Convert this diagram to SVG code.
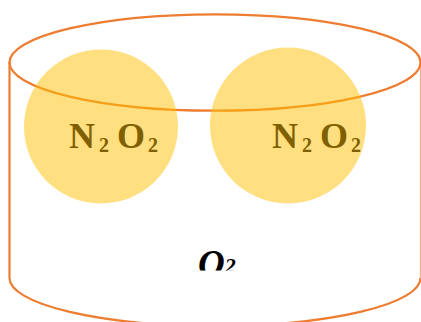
<svg xmlns="http://www.w3.org/2000/svg" width="421" height="322" viewBox="0 0 421 322">
<defs>
<style>
.line{fill:none;stroke:#ED7D31;stroke-width:2.2}
.ball{fill:#FFC000;fill-opacity:0.5}
.lbl{font-family:"Liberation Serif","Times New Roman",serif;font-weight:bold;fill:#7F6000;font-size:36px}
.sub{font-size:20px}
.o2{font-family:"Liberation Serif","Times New Roman",serif;font-weight:bold;font-style:italic;fill:#000000;font-size:37px}
</style>
<clipPath id="clipO2"><rect x="150" y="230" width="120" height="40.5"/></clipPath>
</defs>
<rect width="421" height="322" fill="#FFFFFF"/>
<g id="cylinder">
<path class="line" d="M9.5,62 L9.5,278 A205.5,48 0 0 0 420.5,278"/>
<path class="line" d="M421,62 L421,278" style="stroke-opacity:0.6"/>
<ellipse class="line" cx="215" cy="62.5" rx="205.5" ry="48.2"/>
</g>
<g id="molecule-left">
<circle class="ball" cx="101" cy="126.5" r="77"/>
<text class="lbl" y="148"><tspan x="69">N</tspan><tspan class="sub" x="99" y="152">2</tspan><tspan x="117" y="148">O</tspan><tspan class="sub" x="148" y="152">2</tspan></text>
</g>
<g id="molecule-right">
<circle class="ball" cx="288" cy="125.5" r="78"/>
<text class="lbl" y="148"><tspan x="272">N</tspan><tspan class="sub" x="302" y="152">2</tspan><tspan x="320" y="148">O</tspan><tspan class="sub" x="351" y="152">2</tspan></text>
</g>
<g id="label-o2" clip-path="url(#clipO2)">
<text class="o2" x="198" y="276">O<tspan style="font-size:22px" dy="-3">2</tspan></text>
</g>
</svg>
